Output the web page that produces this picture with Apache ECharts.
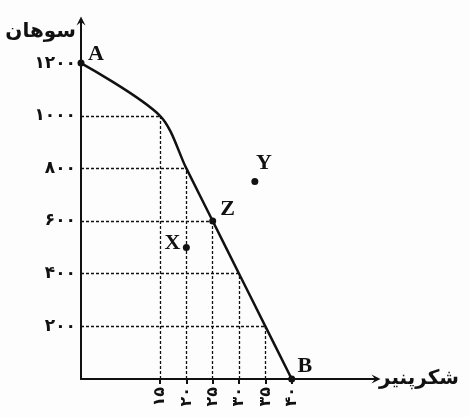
<!DOCTYPE html>
<html>
<head>
<meta charset="utf-8">
<script src="https://cdn.jsdelivr.net/npm/echarts@6/dist/echarts.min.js"></script>
<style>
html, body { margin: 0; padding: 0; background: #fdfdfd; }
#chart { width: 469px; height: 417px; }
</style>
</head>
<body>
<div id="chart"></div>
<script>
// production possibility frontier: shekarpanir vs sohan
const shekarpanir = [0, 15, 20, 25, 30, 35, 40];
const sohan = [1200, 1000, 800, 600, 400, 200, 0];

const xTicks = [15, 20, 25, 30, 35, 40];
const xTickLabels = ['۱۵', '۲۰', '۲۵', '۳۰', '۳۵', '۴۰'];
const yTicks = [200, 400, 600, 800, 1000, 1200];
const yTickLabels = ['۲۰۰', '۴۰۰', '۶۰۰', '۸۰۰', '۱۰۰۰', '۱۲۰۰'];

const pointNames = ['A', 'X', 'Y', 'Z', 'B'];
const pointX = [0, 20, 33, 25, 40];
const pointY = [1200, 500, 750, 600, 0];

const ink = '#111';
const persianFont = '"DejaVu Sans", sans-serif';
const letterOffset = {
  A: [15, -9], X: [-14, -4], Y: [9, -18], Z: [15, -12], B: [13, -13]
};
const arrow = 'path://M5,0 L10,10 L5,6 L0,10 Z';

// dashed drop lines from every inner point of the curve to both axes
let drops = [];
for (let i = 1; i < shekarpanir.length - 1; i++) {
  let x = shekarpanir[i], y = sohan[i];
  drops.push([{ coord: [x, 0] }, { coord: [x, y] }]);
  drops.push([{ coord: [0, y] }, { coord: [x, y] }]);
}

let chart = echarts.init(document.getElementById('chart'));
chart.setOption({
  backgroundColor: '#fdfdfd',
  animation: false,
  grid: { left: 81, right: 93, top: 21, bottom: 38 },
  xAxis: {
    type: 'value',
    min: 0,
    max: 56,
    name: 'شکرپنیر',
    nameLocation: 'end',
    nameGap: 3,
    nameTextStyle: {
      color: ink, fontFamily: persianFont, fontWeight: 'bold', fontSize: 20,
      align: 'left', verticalAlign: 'middle', padding: [0, 0, 4, 0]
    },
    axisLine: {
      lineStyle: { color: ink, width: 2 },
      symbol: ['none', arrow],
      symbolSize: [9, 11]
    },
    axisTick: {
      show: true, customValues: xTicks, length: 5,
      lineStyle: { color: ink, width: 2 }
    },
    axisLabel: {
      customValues: xTicks,
      rotate: 90,
      margin: 8,
      color: ink, fontFamily: persianFont, fontWeight: 'bold', fontSize: 16,
      formatter: (v) => xTickLabels[xTicks.indexOf(v)]
    },
    splitLine: { show: false }
  },
  yAxis: {
    type: 'value',
    min: 0,
    max: 1360,
    name: 'سوهان',
    nameLocation: 'end',
    nameGap: -11,
    nameTextStyle: {
      color: ink, fontFamily: persianFont, fontWeight: 'bold', fontSize: 20,
      align: 'right', verticalAlign: 'middle', padding: [0, 5, 0, 0]
    },
    axisLine: {
      show: true,
      lineStyle: { color: ink, width: 2 },
      symbol: ['none', arrow],
      symbolSize: [9, 11]
    },
    axisTick: { show: false },
    axisLabel: {
      customValues: yTicks,
      margin: 5,
      color: ink, fontFamily: persianFont, fontWeight: 'bold', fontSize: 17,
      formatter: (v) => yTickLabels[yTicks.indexOf(v)]
    },
    splitLine: { show: false }
  },
  series: [
    {
      type: 'line',
      data: shekarpanir.map((x, i) => [x, sohan[i]]),
      showSymbol: false,
      smooth: 0.3,
      lineStyle: { color: ink, width: 2.5 },
      markLine: {
        silent: true,
        symbol: 'none',
        label: { show: false },
        lineStyle: { color: ink, width: 1.3, type: [3, 2] },
        data: drops
      },
      z: 3
    },
    {
      type: 'scatter',
      data: pointNames.map((n, i) => ({ name: n, value: [pointX[i], pointY[i]] })),
      symbolSize: 7,
      itemStyle: { color: ink, opacity: 1 },
      label: {
        show: true,
        position: 'inside',
        formatter: (p) => p.name,
        color: ink,
        fontFamily: '"Liberation Serif", serif',
        fontWeight: 'bold',
        fontSize: 22
      },
      labelLayout: (p) => {
        let off = letterOffset[pointNames[p.dataIndex]];
        return { dx: off[0], dy: off[1] };
      },
      z: 5
    }
  ]
});
</script>
</body>
</html>
